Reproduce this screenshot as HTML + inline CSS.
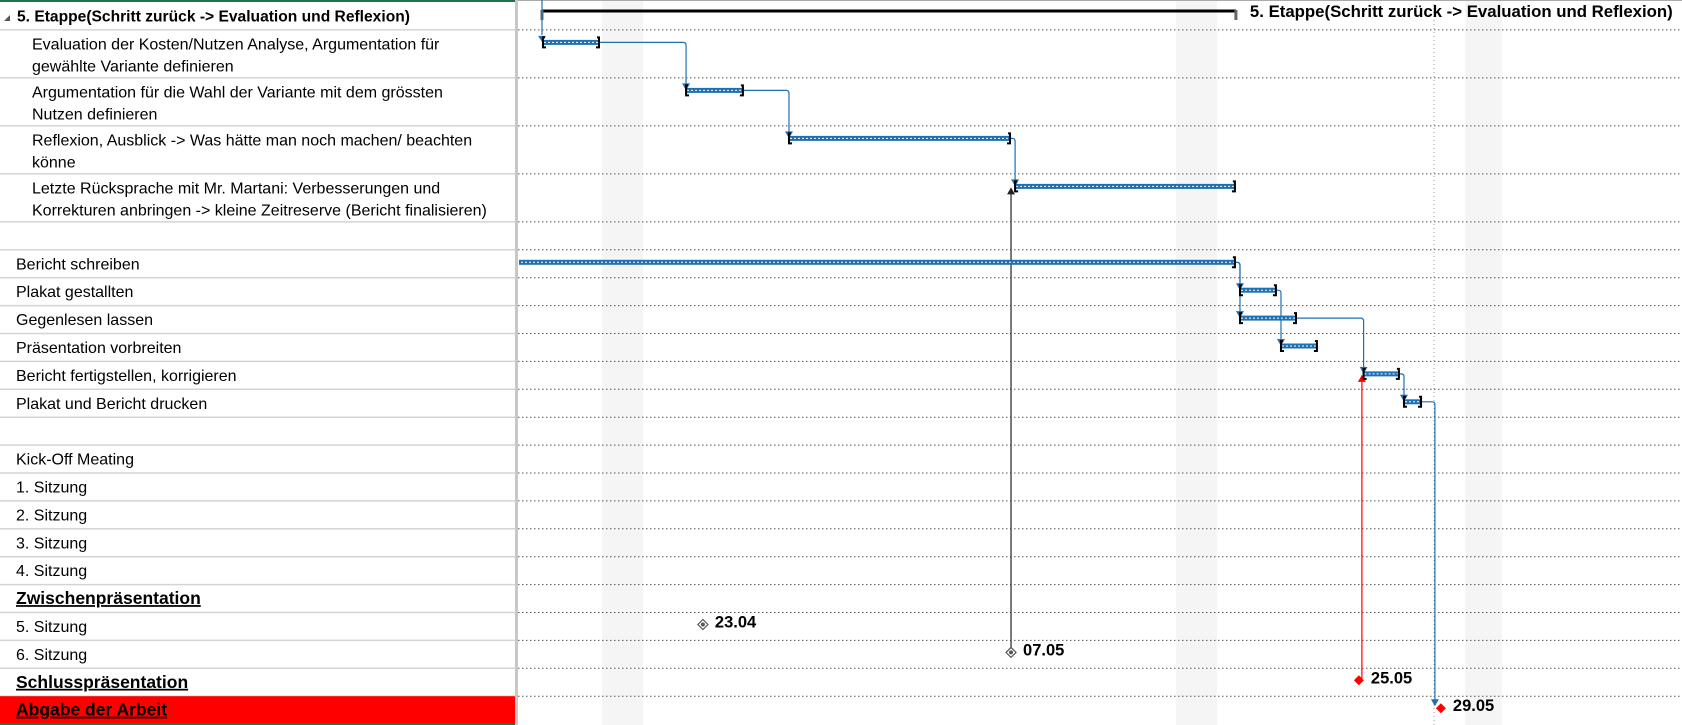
<!DOCTYPE html>
<html><head><meta charset="utf-8">
<style>
html,body{margin:0;padding:0;background:#fff;overflow:hidden}
body{width:1682px;height:725px;position:relative;font-family:"Liberation Sans",sans-serif}
svg text{font-family:"Liberation Sans",sans-serif}
</style></head>
<body>
<svg id="g" width="1682" height="725" xmlns="http://www.w3.org/2000/svg"></svg>
<script>
// ---- data ----
const rowLabels = ["5. Etappe(Schritt zurück -> Evaluation und Reflexion)",
 "Evaluation der Kosten/Nutzen Analyse, Argumentation für|gewählte Variante definieren",
 "Argumentation für die Wahl der Variante mit dem grössten|Nutzen definieren",
 "Reflexion, Ausblick -> Was hätte man noch machen/ beachten|könne",
 "Letzte Rücksprache mit Mr. Martani: Verbesserungen und|Korrekturen anbringen -> kleine Zeitreserve (Bericht finalisieren)",
 "", "Bericht schreiben","Plakat gestallten","Gegenlesen lassen","Präsentation vorbreiten",
 "Bericht fertigstellen, korrigieren","Plakat und Bericht drucken","",
 "Kick-Off Meating","1. Sitzung","2. Sitzung","3. Sitzung","4. Sitzung",
 "Zwischenpräsentation","5. Sitzung","6. Sitzung","Schlusspräsentation","Abgabe der Arbeit"];
const rowKinds = ["head","sub","sub","sub","sub","n","n","n","n","n","n","n","n","n","n","n","n","n","ms","n","n","ms","end"];
const barRows  = [1,2,3,4,6,7,8,9,10,11];
const barStart = [1.17,8.15,13.17,24.2,-1,35.17,35.17,37.17,41.2,43.17];
const barEnd   = [4.0,11.02,24.05,35.02,35.02,37.02,38.0,39.02,43.02,44.1];
const summaryStart = 1.17, summaryEnd = 35.02;
const msRows   = [19,20,21,22];
const msDays   = [9.02,24.05,41.02,45.02];
const msLabels = ["23.04","07.05","25.05","29.05"];
const msColors = ["#555","#555","#f00","#f00"];
const links = [[0,1],[1,2],[2,3],[4,5],[4,6],[5,7],[6,8],[8,9]];
const shadeStart = [4.1,32.1,46.2], shadeEnd = [6.1,34.1,48.0];
// ---- layout ----
const X0=518, PX=20.5, x=d=>X0+d*PX;
const NS="http://www.w3.org/2000/svg", svg=document.getElementById('g');
function el(t,a,p){const e=document.createElementNS(NS,t);for(const k in a)e.setAttribute(k,a[k]);(p||svg).appendChild(e);return e;}
const tops=[];let y=2;
rowLabels.forEach((l,i)=>{tops.push(y);y+= l.includes('|')?48:27.9;});
tops.push(y);
// shading
shadeStart.forEach((s,i)=>{const r=el('rect',{x:x(s),y:0,width:x(shadeEnd[i])-x(s),height:725,fill:'#f5f5f5'});

});
el('line',{x1:1434,y1:0,x2:1434,y2:725,stroke:'#999','stroke-dasharray':'1,3'});
// table
el('rect',{x:0,y:0,width:515,height:725,fill:'#fff'});
rowLabels.forEach((l,i)=>{
  const t=tops[i],h=tops[i+1]-t,k=rowKinds[i];
  if(k==='end'){el('rect',{x:0,y:t,width:515,height:h+2,fill:'#f00'});}
  if(i<rowLabels.length-1){
    el('line',{x1:0,y1:tops[i+1],x2:515,y2:tops[i+1],stroke:'#d4d4d4','stroke-width':1.5});
    el('line',{x1:518,y1:tops[i+1],x2:1682,y2:tops[i+1],stroke:'#555','stroke-dasharray':'1.5,2.5'});
  }
  if(!l)return;
  const lines=l.split('|'),ind=k==='sub'?32:(k==='head'?17:16);
  const fs=(k==='ms'||k==='end')?17.5:(k==='head'?15.6:16);
  lines.forEach((s,j)=>{
    const tx=el('text',{x:ind,y:t+19.5+j*22,'font-size':fs,
      'font-weight':(k==='n'||k==='sub')?'normal':'bold',fill:'#000',
      'text-decoration':(k==='ms'||k==='end')?'underline':'none'});
    if(k==='n'||k==='sub') tx.setAttribute('textLength', null);
    tx.textContent=s;
    
    
  });
  if(k==='head'){el('path',{d:`M4 ${t+19} L10 ${t+13} L10 ${t+19} Z`,fill:'#555'});}
});
el('rect',{x:0,y:0,width:515,height:2,fill:'#217346'});
el('rect',{x:0,y:723,width:515,height:2,fill:'#217346'});
el('rect',{x:515,y:0,width:3,height:725,fill:'#c8c8c8'});
el('line',{x1:518,y1:0.5,x2:1682,y2:0.5,stroke:'#aaa'});
// summary bar
const sy=11;
el('line',{x1:x(summaryStart),y1:sy,x2:x(summaryEnd),y2:sy,stroke:'#000','stroke-width':3});
el('path',{d:`M${x(summaryStart)} ${sy-1} v10`,stroke:'#666','stroke-width':3});
el('path',{d:`M${x(summaryEnd)} ${sy-1} v10`,stroke:'#666','stroke-width':3});
const st=el('text',{x:x(summaryEnd)+14,y:sy+6,'font-size':16.8,'font-weight':'bold'});
st.textContent=rowLabels[0];


el('line',{x1:x(summaryStart),y1:0,x2:x(summaryStart),y2:tops[1]+5,stroke:'#1f6fb4','stroke-width':1.2});
el('path',{d:`M${x(summaryStart)-4} ${tops[1]+6} h8 l-4 6 z`,fill:'#1f6fb4'});
// links
const by=i=>tops[barRows[i]]+12.5;
links.forEach(([a,b])=>{
  const sx=x(barEnd[a]),sy2=by(a),tx=x(barStart[b])+1,ty=by(b)-6;
  el('path',{d:`M${sx} ${sy2} H${tx-3} Q${tx} ${sy2} ${tx} ${sy2+3} V${ty}`,fill:'none',stroke:'#1f6fb4','stroke-width':1.2});
  el('path',{d:`M${tx-4} ${ty-1} h8 l-4 7 z`,fill:'#1f6fb4'});
});
// milestone links
(function(){
  const mx1=x(msDays[1]),my1=tops[msRows[1]]+11;
  el('line',{x1:mx1,y1:my1,x2:mx1,y2:by(3)+2,stroke:'#222','stroke-width':1.2});
  el('path',{d:`M${mx1-4} ${by(3)+8} h8 l-4 -7 z`,fill:'#222'});
  const mx2=x(msDays[2])+3,my2=tops[msRows[2]]+12;
  el('line',{x1:mx2,y1:my2,x2:mx2,y2:by(8)+2,stroke:'#f00','stroke-width':1.2});
  el('path',{d:`M${mx2-4} ${by(8)+8} h8 l-4 -7 z`,fill:'#f00'});
  const sx=x(barEnd[9]),tx=x(msDays[3])-6,ty=tops[msRows[3]]+4;
  el('path',{d:`M${sx} ${by(9)} H${tx-3} Q${tx} ${by(9)} ${tx} ${by(9)+3} V${ty}`,fill:'none',stroke:'#1f6fb4','stroke-width':1.2});
  el('path',{d:`M${tx-4} ${ty-1} h8 l-4 7 z`,fill:'#1f6fb4'});
})();
// bars
barRows.forEach((r,i)=>{
  const x1=Math.max(x(barStart[i]),519),x2=x(barEnd[i]),yy=by(i);
  const g=el('g',{});
  
  
  el('rect',{x:x1,y:yy-2.5,width:x2-x1,height:5,fill:'#1f6fb4'},g);
  el('line',{x1:x1+2,y1:yy,x2:x2-2,y2:yy,stroke:'#fff','stroke-width':1,'stroke-dasharray':'2,2'},g);
  if(barStart[i]>=0) el('path',{d:`M${x1+3} ${yy-5} h-2 v10 h3`,fill:'none',stroke:'#000','stroke-width':2},g);
  el('path',{d:`M${x2-3} ${yy-5} h2 v10 h-3`,fill:'none',stroke:'#000','stroke-width':2},g);
});
// milestones
msDays.forEach((d,i)=>{
  const mx=x(d),my=tops[msRows[i]]+12;
  const g=el('g',{});
  
  
  if(i<2){
    el('path',{d:`M${mx} ${my-5} l5 5 l-5 5 l-5 -5 z`,fill:'#fff',stroke:'#555','stroke-width':1.2},g);
    el('circle',{cx:mx,cy:my,r:2,fill:'#555'},g);
  } else el('path',{d:`M${mx} ${my-5} l5 5 l-5 5 l-5 -5 z`,fill:msColors[i]},g);
  const t=el('text',{x:mx+12,y:my+3,'font-size':16.5,'font-weight':'bold'},g);
  t.textContent=msLabels[i];
});
</script>
</body></html>
